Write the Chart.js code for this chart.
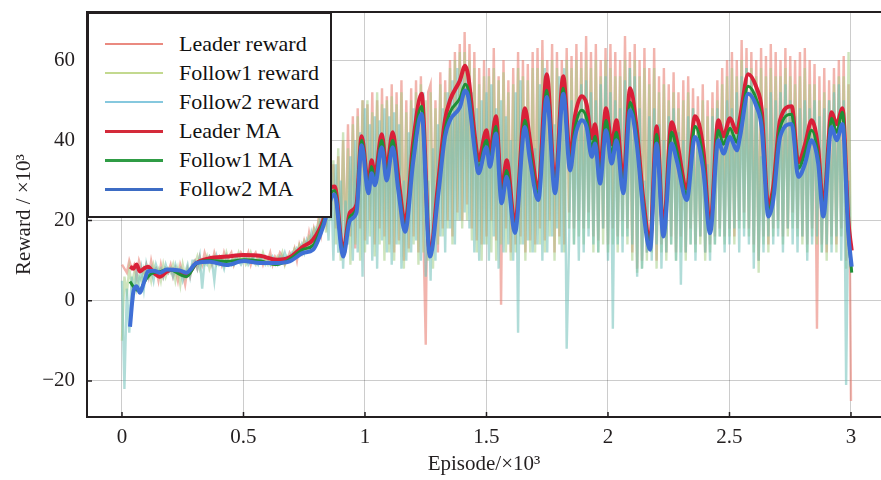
<!DOCTYPE html>
<html>
<head>
<meta charset="utf-8">
<script src="https://cdn.jsdelivr.net/npm/chart.js@4/dist/chart.umd.min.js"></script>
<style>
  body { margin: 0; background: #fff; }
  #wrap { position: relative; width: 881px; height: 480px; }
  #legend {
    position: absolute; left: 87px; top: 12px; width: 241px; height: 202px;
    border: 2px solid #231f20; background: #fff;
    font-family: "Liberation Serif", "Times New Roman", serif; font-size: 22px; color: #111;
  }
  .row { position: absolute; left: 0; height: 24px; display: flex; align-items: center; }
  .swatch { display: inline-block; margin-left: 16px; width: 58px; }
  .row span.txt { margin-left: 16px; white-space: nowrap; }
</style>
</head>
<body>
<div id="wrap">
  <canvas id="chart"></canvas>
  <div id="legend"></div>
</div>
<script>
// 보상 곡선 (Episode ×10^3, Reward ×10^3)
const xTicks = [0, 0.5, 1, 1.5, 2, 2.5, 3];
const yTicks = [-20, 0, 20, 40, 60];

// raw reward, one value per 10 episodes (0 .. 3000)
const leaderReward = [
  9, 8, 7, 10, 8, 9, 6, 10, 8, 7,
  9, 6, 10, 7, 8, 5, 9, 6, 8, 7,
  9, 6, 8, 5, 9, 7, 4, 8, 6, 9,
  10, 8, 11, 9, 12, 10, 11, 9, 12, 10,
  11, 9, 12, 10, 11, 12, 9, 11, 10, 12,
  11, 10, 12, 9, 11, 12, 10, 11, 9, 11,
  10, 12, 9, 11, 10, 12, 11, 9, 10, 12,
  11, 13, 10, 14, 12, 15, 13, 17, 14, 18,
  16, 21, 17, 24, 20, 30, 22, 34, 18, 36,
  14, 40, 12, 44, 16, 46, 13, 48, 18, 50,
  15, 49, 20, 52, 14, 50, 18, 53, 16, 51,
  14, 54, 12, 52, 15, 55, 10, 50, 13, 53,
  16, 55, 12, 56, 18, -11, 52, 54, 14, 50,
  12, 57, 18, 55, 20, 60, 16, 62, 22, 64,
  20, 67, 24, 64, 18, 62, 15, 58, 14, 60,
  16, 58, 20, 63, 15, 56, -1, 60, 18, 55,
  12, 58, 14, 62, 16, 60, 12, 59, 15, 62,
  14, 63, 18, 65, 15, 60, 20, 64, 12, 62,
  16, 60, 14, 63, 22, 61, 18, 64, 20, 62,
  18, 66, 22, 62, 16, 64, 15, 60, 18, 63,
  14, 64, 18, 62, 16, 60, 20, 66, 18, 62,
  12, 64, 8, 60, 10, 63, 12, 58, 14, 63,
  10, 56, 14, 58, 12, 54, 16, 57, 12, 52,
  16, 55, 12, 56, 18, 53, 14, 51, 16, 54,
  12, 50, 14, 52, 16, 55, 18, 58, 16, 60,
  18, 62, 16, 60, 20, 65, 22, 63, 18, 62,
  14, 60, 10, 63, 16, 61, 14, 64, 18, 62,
  20, 60, 16, 63, 18, 61, 22, 60, 18, 62,
  16, 63, 14, 60, 18, 59, -7, 56, 14, 58,
  12, 55, 16, 58, 14, 60, 18, 61, 10, 54,
  -25
];
const follow1Reward = [
  -10, 6, 2, 8, 4, 7, 3, 6, 5, 8,
  6, 8, 5, 9, 7, 8, 5, 9, 6, 8,
  7, 9, 5, 8, 4, 9, 6, 8, 7, 9,
  9, 11, 8, 10, 9, 11, 8, 10, 11, 9,
  10, 11, 9, 12, 10, 9, 11, 10, 12, 10,
  11, 9, 10, 12, 10, 9, 11, 10, 12, 10,
  9, 11, 10, 9, 11, 10, 12, 9, 11, 10,
  11, 13, 12, 14, 13, 15, 14, 16, 15, 18,
  17, 20, 18, 24, 17, 30, 20, 35, 14, 38,
  10, 42, 12, 38, 9, 44, 14, 46, 10, 50,
  12, 50, 16, 47, 11, 52, 14, 49, 10, 50,
  12, 51, 10, 49, 14, 52, 8, 47, 12, 50,
  14, 52, 9, 54, 12, 50, 10, 52, 8, 48,
  14, 54, 16, 52, 18, 58, 14, 60, 20, 62,
  18, 62, 20, 60, 15, 58, 12, 54, 10, 56,
  14, 56, 12, 58, 10, 55, 14, 57, 12, 52,
  10, 54, 12, 58, 14, 56, 10, 55, 12, 58,
  12, 58, 14, 60, 12, 56, 16, 60, 10, 58,
  14, 56, 12, 60, 18, 58, 14, 60, 16, 58,
  14, 60, 18, 58, 12, 60, 12, 56, 14, 60,
  12, 58, 14, 56, 12, 56, 16, 60, 14, 58,
  10, 60, 7, 56, 8, 58, 10, 54, 12, 58,
  8, 52, 12, 54, 10, 50, 14, 52, 10, 48,
  12, 50, 10, 52, 14, 48, 12, 46, 14, 50,
  10, 46, 12, 48, 14, 50, 16, 54, 14, 56,
  16, 58, 14, 56, 18, 60, 18, 58, 16, 58,
  12, 56, 7, 58, 14, 56, 12, 58, 16, 56,
  18, 56, 14, 58, 16, 56, 18, 54, 16, 56,
  14, 58, 12, 54, 16, 54, 14, 50, 12, 52,
  10, 50, 14, 54, 12, 56, 16, 56, 8, 62,
  10
];
const follow2Reward = [
  5, -22, 3, -8, 6, 2, 7, 4, 8, 3,
  9, 6, 8, 5, 9, 7, 8, 6, 9, 7,
  8, 6, 9, 7, 8, 5, 7, 9, 6, 10,
  10, 8, 11, 3, 10, 9, 11, 10, 5, 11,
  9, 10, 8, 11, 9, 10, 9, 11, 10, 9,
  10, 11, 9, 10, 11, 10, 9, 11, 10, 9,
  10, 9, 11, 10, 9, 11, 10, 12, 10, 11,
  12, 11, 13, 12, 14, 12, 15, 13, 17, 15,
  18, 17, 22, 20, 26, 15, 32, 10, 34, 12,
  30, 8, 25, 14, 36, 10, 40, 12, 42, 6,
  48, 14, 44, 10, 46, 8, 45, 15, 48, 12,
  46, 9, 47, 14, 44, 8, 30, 10, 42, 12,
  48, 15, 50, 10, 52, 6, 30, 5, 38, 10,
  44, 16, 48, 12, 52, 18, 55, 14, 58, 20,
  56, 22, 58, 18, 52, 12, 48, 10, 50, 14,
  52, 10, 54, 16, 48, 8, 50, 12, 46, 14,
  40, 10, 52, -8, 55, 14, 48, 15, 42, 12,
  38, 14, 54, 10, 58, 12, 50, 16, 44, 18,
  56, 12, 58, -12, 15, 50, 14, 48, 10, 54,
  12, 55, 16, 52, 14, 50, 12, 54, 18, 56,
  10, 52, -7, 50, 14, 48, 12, 55, 16, 58,
  14, 56, 6, 48, 8, 30, 12, 46, 10, 48,
  14, 44, 8, 40, 12, 46, 14, 48, 10, 42,
  4, 40, 12, 46, 14, 48, 10, 44, 16, 38,
  12, 34, 10, 46, 14, 48, 16, 44, 12, 50,
  14, 48, 18, 52, 12, 56, 16, 58, 14, 56,
  8, 54, 10, 36, 12, 48, 16, 52, 14, 50,
  16, 52, 12, 54, 18, 50, 14, 46, 12, 48,
  16, 50, 10, 48, 14, 50, 16, 46, 12, 48,
  14, 50, 12, 52, 16, 54, 10, 50, -21, 30,
  8
];

// moving averages, read at turning points
const maEpisodes = [
  0.033, 0.047, 0.06, 0.074, 0.09, 0.107, 0.13, 0.156, 0.185, 0.21,
  0.24, 0.266, 0.307, 0.362, 0.43, 0.5, 0.568, 0.637, 0.69, 0.745,
  0.786, 0.828, 0.863, 0.875, 0.91, 0.938, 0.965, 0.986, 1.014, 1.027,
  1.041, 1.069, 1.089, 1.114, 1.137, 1.165, 1.199, 1.233, 1.267, 1.302,
  1.329, 1.35, 1.391, 1.412, 1.425, 1.453, 1.467, 1.5, 1.514, 1.539,
  1.562, 1.583, 1.617, 1.658, 1.679, 1.713, 1.748, 1.782, 1.816, 1.844,
  1.864, 1.892, 1.912, 1.933, 1.947, 1.967, 1.992, 2.015, 2.035, 2.063,
  2.091, 2.118, 2.145, 2.173, 2.2, 2.228, 2.262, 2.283, 2.324, 2.358,
  2.392, 2.42, 2.454, 2.475, 2.502, 2.53, 2.543, 2.577, 2.612, 2.632,
  2.66, 2.68, 2.708, 2.756, 2.783, 2.811, 2.838, 2.865, 2.886, 2.92, 2.941, 2.965, 2.989, 3.003
];
const leaderMA = [
  8.5, 8.0, 9.0, 7.3, 8.0, 8.5, 7.0, 6.0, 7.3, 7.7,
  7.0, 6.5, 9.4, 10.6, 11.0, 11.4, 11.2, 10.2, 10.8, 13.5,
  15.2, 20.1, 28.4, 28.5, 12.5, 22, 24, 41, 29, 35,
  31.5, 41.5, 33, 42, 31, 19.5, 40, 51.6, 12, 30,
  45, 50, 55, 58.6, 56, 40.5, 35, 42.5, 37, 46,
  27.5, 35, 19, 48, 40, 28, 56.5, 29, 56, 36,
  46, 51, 49, 40.5, 44, 33, 48, 39, 45, 30,
  53, 43, 25.5, 15, 43.5, 18, 44.5, 40, 28, 46,
  38, 18.5, 45, 41, 45.5, 42, 45.5, 56.5, 53, 48,
  23.5, 28.5, 45, 48.5, 34.5, 39, 45, 38, 23.5, 47, 44, 48, 20, 12.5
];
const follow1MA = [
  4.8, 3.5, 2.7, 2.5, 4.5, 6.0, 7.0, 7.2, 7.8, 7.5,
  6.5, 6.0, 9.3, 10.0, 9.8, 10.2, 9.9, 9.0, 10.3, 12.8,
  13.8, 19.5, 27.0, 27.5, 12, 21, 23, 40, 28, 33.5,
  30, 40, 31.5, 40, 29, 18.5, 38, 48.5, 11.5, 28,
  42.5, 47, 50.5, 54, 52.5, 38.5, 33, 40, 35, 43.5,
  25.5, 32.5, 18, 45, 37, 26.5, 52.5, 28, 53, 34,
  43, 47.5, 45.5, 38, 41, 31, 45, 36.5, 42, 28.5,
  49.5, 41, 24, 14, 41.5, 17, 42, 37.5, 26.5, 43.5,
  35, 17.5, 42.5, 39, 43, 39.5, 43, 53.5, 50, 45,
  22.5, 27, 43, 46.5, 33, 37, 42.5, 36, 22.5, 45.5, 42, 47, 17.5, 7.0
];
const follow2MA = [
  -6.5, 2.3, 3.6, 2.0, 4.5, 7.3, 7.5, 7.0, 7.8, 7.7,
  7.5, 7.0, 9.4, 9.7, 8.9, 9.9, 9.4, 9.4, 9.8, 11.9,
  12.7, 18.5, 25.9, 26.5, 11, 20, 22, 38.8, 26.8, 31.8,
  28.8, 38.3, 30, 38.3, 27.6, 17.2, 35, 46.6, 11, 26.8,
  40.8, 45, 48.3, 52.4, 50.8, 36.8, 31.8, 38.3, 33.4, 41.7,
  24.3, 30.9, 16.9, 43.3, 35, 25.1, 50.8, 26.8, 51.6, 32.5,
  40.8, 45, 43.3, 35.9, 39.2, 29.2, 42.5, 34.2, 40, 26.8,
  47.5, 39.2, 22.6, 12.7, 39.2, 16, 39.2, 35, 25.1, 40.8,
  32.5, 16.8, 40, 36.7, 40.8, 37.5, 40.8, 51.6, 48.3, 43.3,
  21, 25.1, 40.8, 44.1, 30.9, 34.2, 40, 34.2, 21, 43.3, 40, 44.1, 16.8, 8.5
];

const seriesNames = ['Leader reward', 'Follow1 reward', 'Follow2 reward', 'Leader MA', 'Follow1 MA', 'Follow2 MA'];
const seriesColors = ['rgba(234,130,118,0.6)', 'rgba(165,205,135,0.55)', 'rgba(112,192,184,0.55)', '#d91f38', '#1f8f36', '#3f6fd6'];
const legendColors = ['#ea8a80', '#c3d98f', '#86c8de', '#d42a3a', '#2f9c45', '#3d6cc4'];

const rawX = (i) => i * 0.01;
const rawData = (arr) => arr.map((v, i) => ({ x: rawX(i), y: v }));
const maData = (arr) => arr.map((v, i) => ({ x: maEpisodes[i], y: v }));

const serif = "'Liberation Serif', 'Times New Roman', serif";

// 테두리와 안쪽 눈금
const framePlugin = {
  id: 'frame',
  afterDraw: (chart) => {
    const ctx = chart.ctx;
    const a = chart.chartArea;
    const xs = chart.scales.x;
    const ys = chart.scales.y;
    ctx.save();
    ctx.strokeStyle = '#231f20';
    ctx.lineWidth = 2;
    ctx.beginPath();
    ctx.moveTo(a.right + 2, a.top);
    ctx.lineTo(a.left, a.top);
    ctx.lineTo(a.left, a.bottom);
    ctx.lineTo(a.right + 2, a.bottom);
    ctx.stroke();
    ctx.lineWidth = 1.5;
    ctx.beginPath();
    xTicks.forEach((v) => {
      const px = xs.getPixelForValue(v);
      ctx.moveTo(px, a.bottom);
      ctx.lineTo(px, a.bottom - 5);
    });
    yTicks.forEach((v) => {
      const py = ys.getPixelForValue(v);
      ctx.moveTo(a.left, py);
      ctx.lineTo(a.left + 5, py);
    });
    ctx.stroke();
    ctx.restore();
  }
};

const rawSets = [leaderReward, follow1Reward, follow2Reward].map((arr, k) => ({
  label: seriesNames[k],
  data: rawData(arr),
  borderColor: seriesColors[k],
  borderWidth: 2.4,
  pointRadius: 0,
  tension: 0,
  order: 6 - k
}));
const maSets = [leaderMA, follow1MA, follow2MA].map((arr, k) => ({
  label: seriesNames[k + 3],
  data: maData(arr),
  borderColor: seriesColors[k + 3],
  borderWidth: k === 1 ? 3 : 4,
  pointRadius: 0,
  cubicInterpolationMode: 'monotone',
  order: 3 - k
}));

new Chart(document.getElementById('chart'), {
  type: 'line',
  data: { datasets: rawSets.concat(maSets) },
  options: {
    responsive: true,
    maintainAspectRatio: false,
    animation: false,
    plugins: {
      legend: { display: false },
      tooltip: { enabled: false }
    },
    layout: { padding: { top: 12, right: 0, left: 0, bottom: 0 } },
    scales: {
      x: {
        type: 'linear',
        min: -0.144,
        max: 3.1235,
        afterBuildTicks: (s) => { s.ticks = xTicks.map((v) => ({ value: v })); },
        afterFit: (s) => { s.height = 63; s.paddingLeft = 0; s.paddingRight = 0; },
        ticks: {
          autoSkip: false,
          maxRotation: 0,
          padding: 8,
          color: '#231f20',
          font: { family: serif, size: 21 },
          callback: (v) => String(v)
        },
        grid: { color: 'rgba(0,0,0,0.2)', lineWidth: 1, drawTicks: false },
        border: { display: false },
        title: {
          display: true,
          text: 'Episode/×10³',
          color: '#231f20',
          font: { family: serif, size: 21 },
          padding: { top: 0, bottom: 3 }
        }
      },
      y: {
        min: -29,
        max: 72,
        afterBuildTicks: (s) => { s.ticks = yTicks.map((v) => ({ value: v })); },
        afterFit: (s) => { s.width = 87; s.paddingTop = 0; s.paddingBottom = 0; },
        ticks: {
          padding: 12,
          color: '#231f20',
          font: { family: serif, size: 21 },
          callback: (v) => (v < 0 ? '\u2212' + Math.abs(v) : String(v))
        },
        grid: { color: 'rgba(0,0,0,0.2)', lineWidth: 1, drawTicks: false },
        border: { display: false },
        title: {
          display: true,
          text: 'Reward / ×10³',
          color: '#231f20',
          font: { family: serif, size: 21 },
          padding: { top: 12, bottom: 0 }
        }
      }
    }
  },
  plugins: [framePlugin]
});

// 범례
const legend = document.getElementById('legend');
seriesNames.forEach((name, i) => {
  const row = document.createElement('div');
  row.className = 'row';
  row.style.top = (18 + i * 29) + 'px';
  const sw = document.createElement('span');
  sw.className = 'swatch';
  sw.style.borderTop = (i < 3 ? 2 : 3) + 'px solid ' + legendColors[i];
  const txt = document.createElement('span');
  txt.className = 'txt';
  txt.textContent = name;
  row.appendChild(sw);
  row.appendChild(txt);
  legend.appendChild(row);
});
</script>
</body>
</html>
